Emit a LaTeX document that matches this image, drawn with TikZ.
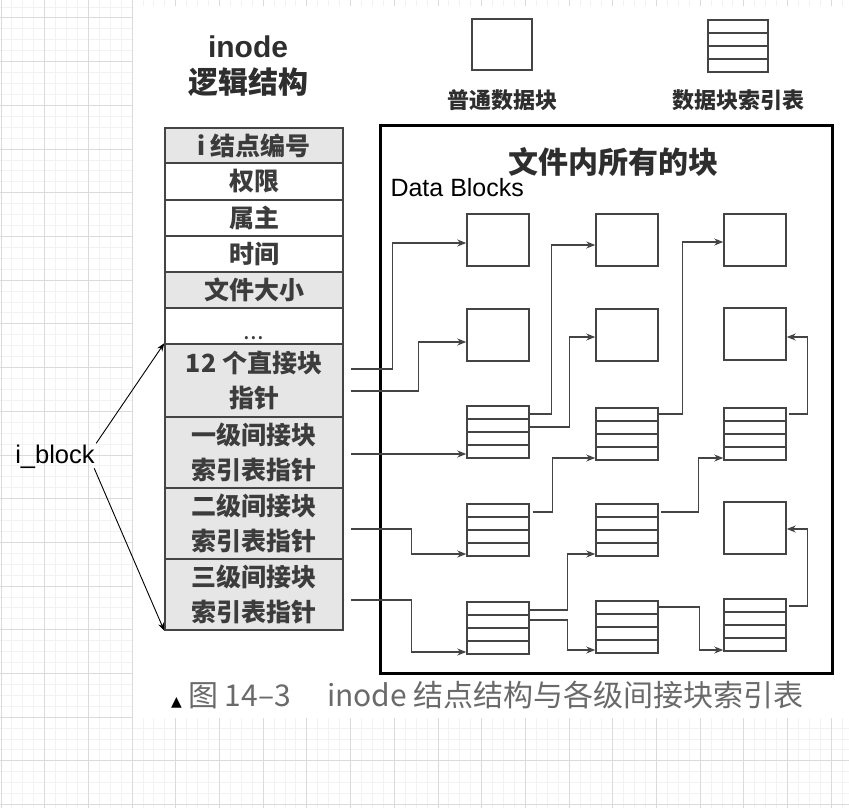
\documentclass[tikz,border=0pt]{standalone}
\usepackage{fontspec}
\setmainfont{Liberation Sans}
\newfontfamily\cjk{Noto Sans CJK SC}
\newfontfamily\dejavu{DejaVu Sans}
\usetikzlibrary{calc,arrows.meta}
\definecolor{lineg}{HTML}{444444}
\definecolor{cellg}{HTML}{E6E6E6}
\definecolor{gridmin}{HTML}{F2F2F2}
\definecolor{gridmaj}{HTML}{DADADA}
\definecolor{txtg}{HTML}{2E2E2E}
\definecolor{celltxt}{HTML}{3C3C3C}
\definecolor{capg}{HTML}{6A6A6A}
\begin{document}
\begin{tikzpicture}[x=1pt,y=1pt,
  cell/.style={draw=lineg, line width=1.5pt, minimum width=178pt, inner sep=0pt, align=center, text=celltxt, font=\cjk\bfseries\fontsize{25}{35}\selectfont},
  gcell/.style={cell, fill=cellg},
  blk/.style={draw=lineg, line width=1.5pt, minimum width=62pt, minimum height=52pt, inner sep=0pt, fill=white},
  idx/.style={blk, path picture={\foreach \f in {0.25,0.5,0.75}{\draw[lineg, line width=1.5pt] ($(path picture bounding box.north west)!\f!(path picture bounding box.south west)$) -- ($(path picture bounding box.north east)!\f!(path picture bounding box.south east)$);}}},
  conn/.style={draw=lineg, line width=1.3pt, -{Stealth[length=9pt,width=7pt]}},
  thinarrow/.style={draw=black, line width=0.9pt, -{Stealth[length=8pt,width=6pt]}},
  lbl/.style={text=txtg, font=\cjk\bfseries\fontsize{22}{22}\selectfont},
  titlecjk/.style={text=txtg, font=\cjk\bfseries\fontsize{30}{30}\selectfont},
  captxt/.style={anchor=base west, inner sep=0pt, text=capg, font=\cjk\fontsize{30}{30}\selectfont},
  gridmin/.style={draw=gridmin, line width=1pt},
  gridmaj/.style={draw=gridmaj, line width=1pt}
]
% canvas and grid
\useasboundingbox (0,0) rectangle (849,-808);
\fill[white] (0,0) rectangle (849,-808);
\foreach \i in {0,...,78} {\draw[gridmin] (1+\i*10.925,0) -- (1+\i*10.925,-808);}
\foreach \j in {-1,...,73} {\draw[gridmin] (0,-18-\j*10.925) -- (849,-18-\j*10.925);}
\foreach \i in {0,...,19} {\draw[gridmaj] (1+\i*43.7,0) -- (1+\i*43.7,-808);}
\foreach \j in {0,...,18} {\draw[gridmaj] (0,-18-\j*43.7) -- (849,-18-\j*43.7);}
\fill[white] (133,-6) rectangle (849,-718);

% title
\node[text=txtg, font=\bfseries\fontsize{30}{30}\selectfont] (t1) at (248,-47) {inode};
\node[titlecjk] (t2) at (248,-82) {逻辑结构};

% legend
\node[blk, minimum width=60pt, minimum height=51pt] (leg1) at (502,-44.5) {};
\node[idx, minimum width=60pt, minimum height=52pt] (leg2) at (738,-46) {};
\node[lbl] (leg1t) at (502,-100) {普通数据块};
\node[lbl] (leg2t) at (738,-100) {数据块索引表};

% inode table
\node[gcell, minimum height=35pt] (r1) at (254,-145.5) {i 结点编号};
\node[cell, minimum height=37pt] (r2) at (254,-181.5) {权限};
\node[cell, minimum height=36pt] (r3) at (254,-218) {属主};
\node[cell, minimum height=36pt] (r4) at (254,-254) {时间};
\node[gcell, minimum height=36pt] (r5) at (254,-290) {文件大小};
\node[cell, minimum height=36pt, text height=26pt, text depth=0pt, font=\cjk\fontsize{24}{24}\selectfont] (r6) at (254,-326) {...};
\node[gcell, minimum height=73pt] (r7) at (254,-380.5) {12 个直接块\\指针};
\node[gcell, minimum height=71pt] (r8) at (254,-452.5) {一级间接块\\索引表指针};
\node[gcell, minimum height=71pt] (r9) at (254,-523.5) {二级间接块\\索引表指针};
\node[gcell, minimum height=71pt] (r10) at (254,-594.5) {三级间接块\\索引表指针};

% i_block
\node[font=\fontsize{25.5}{26}\selectfont, anchor=base] (ib) at (55,-463) {i\_block};
\draw[thinarrow] ([shift={(-2,13)}]ib.east) -- (r7.north west);
\draw[thinarrow] ([shift={(-4,-12)}]ib.east) -- (r10.south west);

% big box
\node[draw=black, line width=3pt, minimum width=452pt, minimum height=548pt, inner sep=0pt] (allbox) at (606,-399) {};
\node[titlecjk] (boxt) at (613,-162) {文件内所有的块};
\node[anchor=base west, font=\fontsize{25}{25}\selectfont] (db) at (387,-196) {Data Blocks};

% blocks
\node[blk] (a1) at (498,-240) {};
\node[blk] (a2) at (627,-240) {};
\node[blk] (a3) at (755,-240) {};
\node[blk] (b1) at (498,-335) {};
\node[blk] (b2) at (627,-335) {};
\node[blk] (b3) at (755,-334) {};
\node[idx] (c1) at (498,-432) {};
\node[idx] (c2) at (627,-434) {};
\node[idx] (c3) at (755,-434) {};
\node[idx] (d1) at (498,-530) {};
\node[idx] (d2) at (627,-530) {};
\node[blk] (d3) at (755,-528) {};
\node[idx] (e1) at (498,-628) {};
\node[idx] (e2) at (627,-627) {};
\node[idx] (e3) at (755,-625) {};

% connectors from inode table
\draw[conn] ([shift={(7,11.5)}]r7.east) -- ++(42,0) |- ([yshift=-3pt]a1.west);
\draw[conn] ([shift={(7,-10.5)}]r7.east) -- ++(68,0) |- ([yshift=-7pt]b1.west);
\draw[conn] ([shift={(7,-1.5)}]r8.east) -- ([yshift=-22pt]c1.west);
\draw[conn] ([shift={(7,-5.5)}]r9.east) -- ++(61,0) |- ([yshift=-24pt]d1.west);
\draw[conn] ([shift={(7,-5.5)}]r10.east) -- ++(61,0) |- ([yshift=-24pt]e1.west);

% connectors between blocks
\draw[conn] ([yshift=18pt]c1.east) -- ++(22,0) |- ([yshift=-5pt]a2.west);
\draw[conn] ([yshift=5pt]c1.east) -- ++(40,0) |- ([yshift=-2pt]b2.west);
\draw[conn] ([yshift=20pt]c2.east) -- ++(24,0) |- ([yshift=-2pt]a3.west);
\draw[conn] ([shift={(2,20)}]c3.east) -- ++(19,0) |- ([yshift=-3pt]b3.east);
\draw[conn] ([shift={(3,18)}]d1.east) -- ++(20,0) |- ([yshift=-24pt]c2.west);
\draw[conn] ([shift={(2,18)}]d2.east) -- ++(38,0) |- ([yshift=-24pt]c3.west);
\draw[conn] ([yshift=18pt]e1.east) -- ++(38,0) |- ([yshift=-24pt]d2.west);
\draw[conn] ([yshift=8pt]e1.east) -- ++(38,0) |- ([yshift=-23pt]e2.west);
\draw[conn] ([yshift=20pt]e2.east) -- ++(41,0) |- ([yshift=-25pt]e3.west);
\draw[conn] ([shift={(2,19)}]e3.east) -- ++(19,0) |- ([yshift=-1pt]d3.east);

% caption
\node[anchor=base west, inner sep=0pt, font=\dejavu\fontsize{14}{14}\selectfont] (tri) at (171,-706) {▲};
\node[captxt] (cap1) at (188,-706) {图 14–3};
\node[captxt] (cap2) at (327,-706) {inode 结点结构与各级间接块索引表};
\end{tikzpicture}
\end{document}
